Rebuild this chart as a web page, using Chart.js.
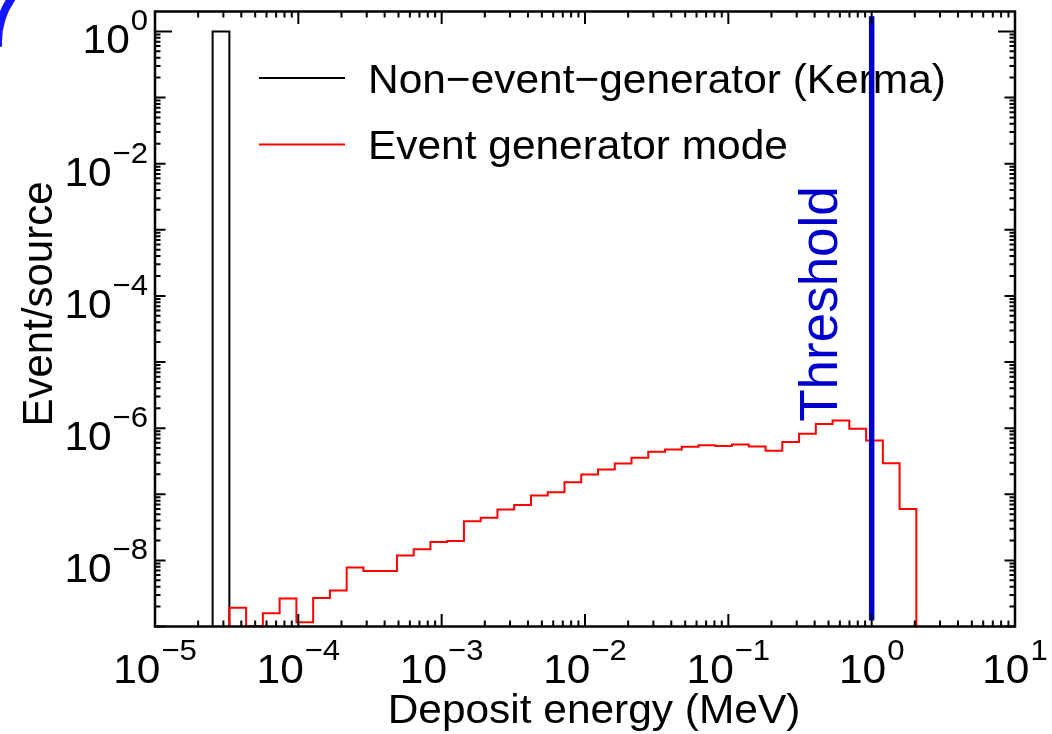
<!DOCTYPE html>
<html>
<head>
<meta charset="utf-8">
<script src="https://cdn.jsdelivr.net/npm/chart.js@4.4.1/dist/chart.umd.min.js"></script>
<style>
  html, body { margin: 0; padding: 0; background: #fff; }
  canvas { display: block; }
</style>
</head>
<body>
<canvas id="chart" width="1052" height="734"></canvas>
<script>
// log-spaced bin edges of the deposit energy histogram (MeV)
const binEdges = [
  2.523e-5, 3.303e-5, 4.323e-5, 5.657e-5, 7.405e-5, 9.694e-5,
  1.269e-4, 1.661e-4, 2.174e-4, 2.846e-4, 3.724e-4, 4.875e-4, 6.379e-4, 8.349e-4,
  1.093e-3, 1.430e-3, 1.872e-3, 2.451e-3, 3.208e-3, 4.199e-3, 5.495e-3, 7.192e-3, 9.415e-3,
  1.232e-2, 1.613e-2, 2.111e-2, 2.763e-2, 3.617e-2, 4.734e-2, 6.195e-2, 8.110e-2,
  1.061e-1, 1.389e-1, 1.818e-1, 2.380e-1, 3.115e-1, 4.077e-1, 5.337e-1, 6.985e-1, 9.144e-1,
  1.197, 1.566, 2.050
];

// Kerma: everything in the first bin
const kermaValues = [1];

// event generator mode, bins 1..41 (0 = empty bin)
const eventGenValues = [
  1.92e-9, 0, 1.58e-9, 2.65e-9, 1.16e-9, 2.7e-9, 3.5e-9, 7.8e-9, 6.9e-9, 6.9e-9,
  1.19e-8, 1.47e-8, 1.9e-8, 1.96e-8, 3.9e-8, 4.43e-8, 5.86e-8, 6.89e-8, 9.55e-8, 1.07e-7,
  1.52e-7, 1.99e-7, 2.37e-7, 2.92e-7, 3.55e-7, 4.38e-7, 4.76e-7, 5.21e-7, 5.53e-7, 5.39e-7,
  5.66e-7, 5.28e-7, 4.53e-7, 6.19e-7, 8.2e-7, 1.15e-6, 1.31e-6, 9.76e-7, 6.51e-7, 2.95e-7,
  5.98e-8
];

const thresholdEnergy = 1;
const thresholdSpan = [1.23e-9, 1.7];

const seriesLabels = ['Non\u2212event\u2212generator (Kerma)', 'Event generator mode'];
const xTickExponents = [-5, -4, -3, -2, -1, 0, 1];
const yTickExponents = [0, -2, -4, -6, -8];

const xMin = 1e-5, xMax = 10;
const yMin = 1e-9, yMax = 2;

const FONT = '"Liberation Sans", Arial, Helvetica, sans-serif';
const SX = 1.035; // the original lettering is a bit wide

// outline of a histogram: up at first edge, steps, down at last edge
function histogramOutline(edges, values) {
  const pts = [{ x: edges[0], y: yMin }];
  values.forEach((v, i) => {
    const y = v > 0 ? v : yMin;
    pts.push({ x: edges[i], y: y });
    pts.push({ x: edges[i + 1], y: y });
  });
  pts.push({ x: edges[values.length], y: yMin });
  return pts;
}

function wideText(ctx, text, x, y, align) {
  ctx.save();
  ctx.translate(x, y);
  ctx.scale(SX, 1);
  ctx.textAlign = align;
  ctx.textBaseline = 'alphabetic';
  ctx.fillText(text, 0, 0);
  ctx.restore();
}

function powerLabel(ctx, exponent, anchorX, baselineY, align) {
  const expText = exponent < 0 ? '\u2212' + Math.abs(exponent) : String(exponent);
  const baseFont = '41px ' + FONT, expFont = '30px ' + FONT;
  ctx.font = baseFont;
  const wb = ctx.measureText('10').width * SX;
  ctx.font = expFont;
  const we = ctx.measureText(expText).width * SX;
  const total = wb + 1 + we;
  const left = align === 'center' ? anchorX - total / 2 : anchorX - total;
  ctx.font = baseFont;
  wideText(ctx, '10', left, baselineY, 'left');
  ctx.font = expFont;
  wideText(ctx, expText, left + wb + 1, baselineY - 23, 'left');
}

const decorations = {
  id: 'decorations',
  beforeDatasetsDraw(chart) {
    const ctx = chart.ctx;
    ctx.save();
    // legend
    const entries = [
      { ds: chart.data.datasets[2], y: 78 },
      { ds: chart.data.datasets[1], y: 144.5 }
    ];
    entries.forEach(e => {
      ctx.strokeStyle = e.ds.borderColor;
      ctx.lineWidth = 2;
      ctx.beginPath();
      ctx.moveTo(259, e.y);
      ctx.lineTo(345, e.y);
      ctx.stroke();
      ctx.fillStyle = '#000';
      ctx.font = '41px ' + FONT;
      wideText(ctx, e.ds.label, 368, e.y + 14.5, 'left');
    });
    ctx.restore();
  },
  afterDatasetsDraw(chart) {
    const ctx = chart.ctx;
    const { left, right, top, bottom } = chart.chartArea;
    const xs = chart.scales.x, ys = chart.scales.y;
    ctx.save();
    ctx.strokeStyle = '#000';
    ctx.lineWidth = 2;
    ctx.lineCap = 'butt';

    // x ticks (bottom and top, inward)
    for (let d = -5; d <= 1; d++) {
      for (let m = 1; m <= 9; m++) {
        const v = m * Math.pow(10, d);
        if (v < xMin * 0.999 || v > xMax * 1.001) continue;
        const px = xs.getPixelForValue(v);
        const len = m === 1 ? 12.5 : 6;
        ctx.beginPath();
        ctx.moveTo(px, bottom); ctx.lineTo(px, bottom - len);
        ctx.moveTo(px, top); ctx.lineTo(px, top + len);
        ctx.stroke();
      }
    }
    // y ticks (left and right, inward)
    for (let d = -9; d <= 0; d++) {
      for (let m = 1; m <= 9; m++) {
        const v = m * Math.pow(10, d);
        if (v < yMin * 0.999 || v > yMax * 0.999) continue;
        const py = ys.getPixelForValue(v);
        const len = m === 1 ? (d === 0 ? 17 : 10.5) : 5.5;
        ctx.beginPath();
        ctx.moveTo(left, py); ctx.lineTo(left + len, py);
        ctx.moveTo(right, py); ctx.lineTo(right - len, py);
        ctx.stroke();
      }
    }
    // frame
    ctx.lineWidth = 2.5;
    ctx.strokeRect(left, top, right - left, bottom - top);

    // tick labels
    ctx.fillStyle = '#000';
    xTickExponents.forEach(e => {
      powerLabel(ctx, e, xs.getPixelForValue(Math.pow(10, e)), 683, 'center');
    });
    yTickExponents.forEach(e => {
      powerLabel(ctx, e, 148, ys.getPixelForValue(Math.pow(10, e)) + 22, 'right');
    });

    // axis titles
    ctx.font = '41px ' + FONT;
    wideText(ctx, 'Deposit energy (MeV)', 594, 723, 'center');
    ctx.save();
    ctx.translate(52, 304);
    ctx.rotate(-Math.PI / 2);
    ctx.font = '42px ' + FONT;
    ctx.textAlign = 'center';
    ctx.textBaseline = 'alphabetic';
    ctx.fillText('Event/source', 0, 0);
    ctx.restore();

    // threshold label
    ctx.save();
    ctx.translate(837, 304);
    ctx.rotate(-Math.PI / 2);
    ctx.fillStyle = '#0000cc';
    ctx.font = '53px ' + FONT;
    ctx.textAlign = 'center';
    ctx.textBaseline = 'alphabetic';
    ctx.fillText('Threshold', 0, 0);
    ctx.restore();

    // blue arc in the corner
    ctx.strokeStyle = '#1414ff';
    ctx.lineWidth = 8;
    ctx.beginPath();
    ctx.arc(75, 42, 77, Math.PI * 0.98, Math.PI * 1.4);
    ctx.stroke();
    ctx.restore();
  }
};

new Chart(document.getElementById('chart'), {
  type: 'line',
  data: {
    datasets: [
      {
        label: 'Threshold',
        data: [{ x: thresholdEnergy, y: thresholdSpan[0] }, { x: thresholdEnergy, y: thresholdSpan[1] }],
        borderColor: '#0000cc',
        borderWidth: 5.5,
        order: 0
      },
      {
        label: seriesLabels[1],
        data: histogramOutline(binEdges.slice(1), eventGenValues),
        borderColor: '#ff0000',
        borderWidth: 2,
        order: 1
      },
      {
        label: seriesLabels[0],
        data: histogramOutline(binEdges.slice(0, 2), kermaValues),
        borderColor: '#000000',
        borderWidth: 2,
        order: 2
      }
    ]
  },
  options: {
    responsive: false,
    devicePixelRatio: 1,
    animation: false,
    events: [],
    elements: { point: { radius: 0 }, line: { tension: 0, fill: false, borderJoinStyle: 'miter' } },
    layout: { padding: { top: 11.5, right: 37, left: 0, bottom: 0 } },
    plugins: { legend: { display: false }, tooltip: { enabled: false } },
    scales: {
      x: {
        type: 'logarithmic',
        min: xMin, max: xMax,
        grid: { display: false },
        border: { display: false },
        ticks: { display: false },
        afterFit(scale) { scale.height = 734 - 626.5; }
      },
      y: {
        type: 'logarithmic',
        min: yMin, max: yMax,
        grid: { display: false },
        border: { display: false },
        ticks: { display: false },
        afterFit(scale) { scale.width = 155; }
      }
    }
  },
  plugins: [decorations]
});
</script>
</body>
</html>
